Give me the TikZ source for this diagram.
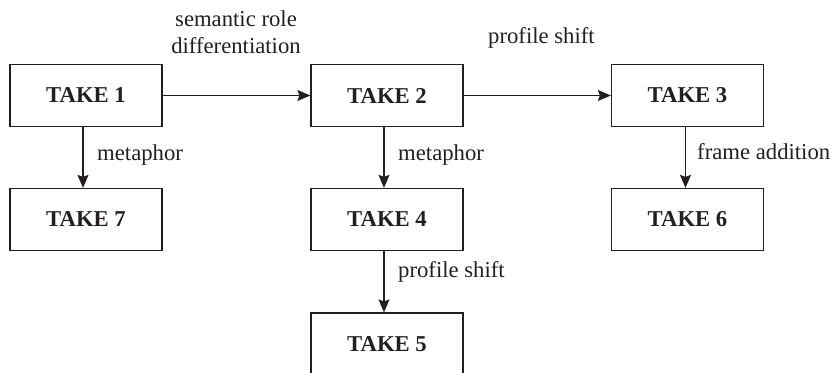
\documentclass[tikz,border=0pt]{standalone}
\usepackage{fontspec}
\setmainfont{Liberation Serif}
\usetikzlibrary{arrows.meta}
\definecolor{ink}{HTML}{231F20}
\begin{document}
\begin{tikzpicture}[x=1pt,y=-1pt,
  takebox/.style={draw=ink,line width=1.2pt,minimum width=152pt,minimum height=62pt,inner sep=0pt,text=ink,font=\fontsize{22.7}{26}\selectfont\bfseries},
  lbl/.style={text=ink,inner sep=0pt,font=\fontsize{22.7}{26}\selectfont},
  conn/.style={draw=ink,line width=1.2pt,-{Stealth[length=13pt,width=11pt,inset=2pt]}}]
\useasboundingbox (0,0) rectangle (832,372);
\node[takebox] (t1) at (86,95.5) {TAKE 1};
\node[takebox] (t2) at (387,95.5) {TAKE 2};
\node[takebox] (t3) at (687.5,95.5) {TAKE 3};
\node[takebox] (t7) at (86,219.5) {TAKE 7};
\node[takebox] (t4) at (387,219.5) {TAKE 4};
\node[takebox] (t6) at (687.5,219.5) {TAKE 6};
\node[takebox] (t5) at (387,344) {TAKE 5};
\draw[conn] (t1) -- (t2);
\draw[conn] (t2) -- (t3);
\draw[conn] ([xshift=-3pt]t1.south) -- ([xshift=-3pt]t7.north);
\draw[conn] ([xshift=-3pt]t2.south) -- ([xshift=-3pt]t4.north);
\draw[conn] ([xshift=-2pt]t3.south) -- ([xshift=-2pt]t6.north);
\draw[conn] ([xshift=-3pt]t4.south) -- ([xshift=-3pt]t5.north);
\node[lbl,anchor=base] (l1) at (236,27) {semantic role};
\node[lbl,anchor=base] (l2) at (236,53) {differentiation};
\node[lbl,anchor=base west] (l3) at (488,43) {profile shift};
\node[lbl,anchor=base west] (l4) at (97,160) {metaphor};
\node[lbl,anchor=base west] (l5) at (398,160) {metaphor};
\node[lbl,anchor=base west] (l6) at (697,159) {frame addition};
\node[lbl,anchor=base west] (l7) at (398,277) {profile shift};
\end{tikzpicture}
\end{document}
